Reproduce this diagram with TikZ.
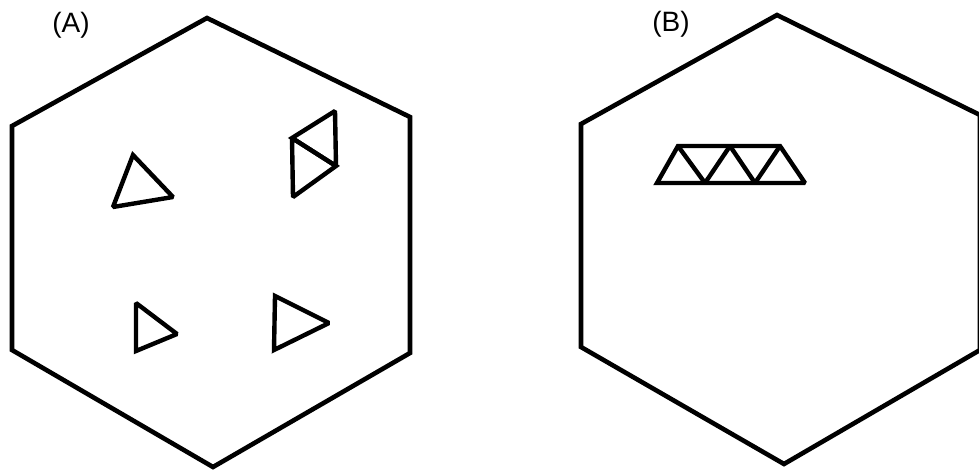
\documentclass[tikz,border=0pt]{standalone}
\usepackage{fontspec}
\setmainfont{Liberation Sans}
\begin{document}
\begin{tikzpicture}[x=1pt,y=-1pt,
  outline/.style={draw=black,line width=4.6pt,line join=miter},
  tri/.style={draw=black,line width=4.4pt,line join=miter,miter limit=2},
  lbl/.style={font=\fontsize{28}{30}\selectfont,inner sep=0pt}]
\useasboundingbox (0,0) rectangle (979,472);
% Hexagon A
\draw[outline] (207,18) -- (410,117) -- (410,353) -- (213,467) -- (12,350) -- (12,126) -- cycle;
% Hexagon B
\draw[outline] (777,15) -- (980,115) -- (980,350) -- (784,464) -- (581,347) -- (581,124) -- cycle;
% Labels
\node[lbl] (la) at (71,25) {(A)};
\node[lbl] (lb) at (671,24) {(B)};
% Triangles in A
\draw[tri] (133,155) -- (173,197) -- (113,207) -- cycle;
\draw[tri] (292,138) -- (335,111) -- (336,166) -- cycle;
\draw[tri] (292,138) -- (336,166) -- (293,197) -- cycle;
\draw[tri] (136,303) -- (177,334) -- (136,351) -- cycle;
\draw[tri] (275,296) -- (329,323) -- (274,350) -- cycle;
% Truss in B
\draw[tri] (657,183) -- (678,146) -- (780,146) -- (805,183) -- cycle;
\draw[tri,line join=bevel] (678,146) -- (705,183) -- (730,146) -- (755,183) -- (780,146);
\end{tikzpicture}
\end{document}
